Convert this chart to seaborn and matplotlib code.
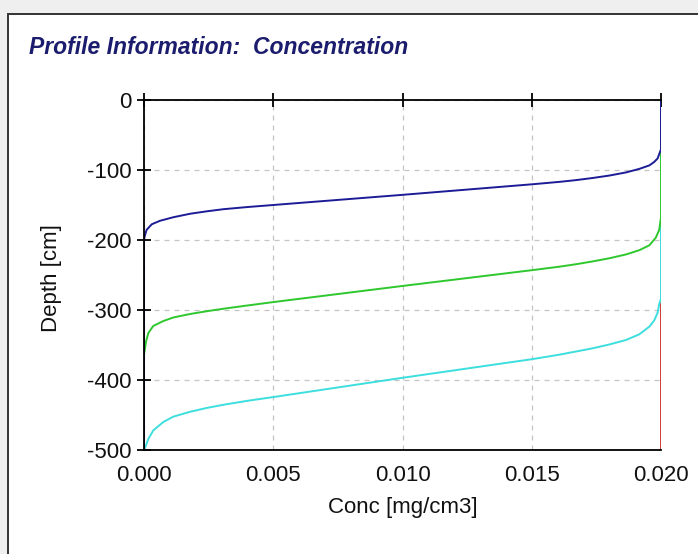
import matplotlib
matplotlib.use("Agg")
import matplotlib.pyplot as plt
from matplotlib.patches import Rectangle
import seaborn as sns

# profiles: concentration [mg/cm3] vs depth [cm]
blue_conc = [0.02, 0.02, 0.01993, 0.01987, 0.01974, 0.01955, 0.01916, 0.01865, 0.018,
             0.01735, 0.01671, 0.01607, 0.015, 0.010, 0.005, 0.00397, 0.00307,
             0.00243, 0.00178, 0.00113, 0.00062, 0.0003, 0.0001, 0.000027, 0.0, 0.0]
blue_depth = [0, -71, -78, -84, -89, -94, -99, -104, -108.5,
              -112, -115, -117.5, -121, -136, -150.5, -153.5, -156.5,
              -159.5, -163, -168, -173, -178, -186, -195, -200, -500]

green_conc = [0.02, 0.02, 0.01993, 0.0198, 0.01955, 0.01916, 0.01865, 0.018,
              0.01735, 0.01671, 0.01607, 0.015, 0.010, 0.005, 0.00397, 0.00307,
              0.00243, 0.00178, 0.00113, 0.00075, 0.00036, 0.00017, 0.00008, 0.0, 0.0]
green_depth = [0, -168, -186, -197, -208, -215, -221, -226.5,
               -231, -235, -238.5, -243.5, -266, -289, -294, -298.5,
               -302, -306, -311, -316, -323, -333, -345, -364, -500]

cyan_conc = [0.02, 0.02, 0.01993, 0.01987, 0.01974, 0.01955, 0.01916, 0.01865, 0.018,
             0.01735, 0.01671, 0.01607, 0.015, 0.010, 0.005, 0.00397, 0.00307,
             0.00243, 0.00178, 0.00113, 0.00075, 0.00036, 0.00017, 0.00004, 0.0]
cyan_depth = [0, -284, -292, -304, -315, -324, -335, -343, -349.5,
              -355, -359.5, -364, -370.5, -397, -424.5, -430, -435.5,
              -440, -445.5, -452.5, -460, -472, -484, -497, -500]

red_conc = [0.02, 0.02]
red_depth = [0, -500]

x_ticks = [0.0, 0.005, 0.010, 0.015, 0.020]
x_ticklabels = ["0.000", "0.005", "0.010", "0.015", "0.020"]
y_ticks = [0, -100, -200, -300, -400, -500]

sns.set_style("white")
plt.rcParams["font.family"] = ["Liberation Sans", "DejaVu Sans"]
plt.rcParams["axes.unicode_minus"] = False

fig = plt.figure(figsize=(6.98, 5.54), dpi=100, facecolor="#efefef")
# white panel with a dark frame
fig.patches.append(Rectangle((8 / 698, -0.02), 1.0, 1 - 14 / 554 + 0.02,
                             transform=fig.transFigure, facecolor="white",
                             edgecolor="#333333", linewidth=1.4, zorder=-10))

ax = fig.add_axes([144 / 698, 1 - 450 / 554, 517 / 698, 350.5 / 554])
ax.set_zorder(2)
ax.set_facecolor("none")

profiles = [
    (red_conc, red_depth, "#d03a3a"),
    (cyan_conc, cyan_depth, "#3ddede"),
    (green_conc, green_depth, "#2ec82e"),
    (blue_conc, blue_depth, "#1c1c96"),
]
for conc, depth, col in profiles:
    sns.lineplot(x=conc, y=depth, sort=False, estimator=None, color=col,
                 linewidth=1.4, ax=ax, zorder=2)

ax.set_xlim(0, 0.02)
ax.set_ylim(-500, 0)
ax.set_xticks(x_ticks)
ax.set_xticklabels(x_ticklabels)
ax.set_yticks(y_ticks)
ax.grid(True, color="#c4c4c4", linestyle=(0, (4, 4)), linewidth=0.9)
ax.set_axisbelow(True)

for s in ["left", "bottom", "top"]:
    ax.spines[s].set_visible(True)
    ax.spines[s].set_color("black")
    ax.spines[s].set_linewidth(1.3)
ax.spines["right"].set_visible(False)

ax.tick_params(axis="both", direction="inout", length=10, width=1.3,
               labelsize=16, colors="black", labelcolor="#111111", pad=4)
ax.tick_params(axis="x", top=True, labeltop=False, pad=6)
ax.tick_params(axis="y", left=True, pad=4)

ax.set_xlabel("Conc [mg/cm3]", fontsize=16, labelpad=8, color="#111111")
ax.set_ylabel("Depth [cm]", fontsize=16, color="#111111")
ax.yaxis.set_label_coords(-0.159, 0.49)

fig.text(29 / 698, 1 - 48 / 554, "Profile Information:  Concentration",
         fontsize=16.5, fontweight="bold", fontstyle="italic",
         color="#1c1c6e", ha="left", va="center")

fig.savefig("out.png", dpi=100, facecolor=fig.get_facecolor())
